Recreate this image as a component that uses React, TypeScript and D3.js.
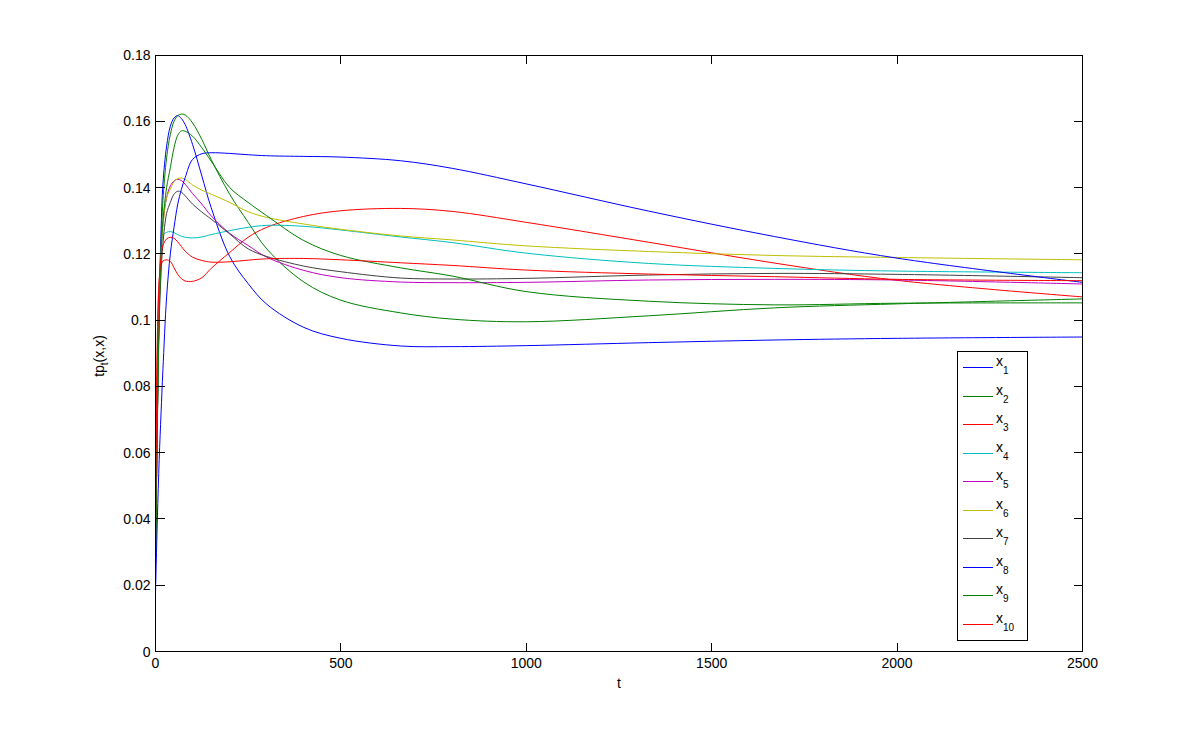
import React from 'react';
import * as d3 from 'd3';

// sample times (t) and the value of each series at those times
const times = [0, 5, 10, 15, 20, 30, 40, 50, 60, 70, 80, 100, 125, 150, 200, 250, 300, 400, 500, 660, 800, 1000, 1330, 1670, 2000, 2500];

const x1 = [0.027, 0.070, 0.105, 0.127, 0.141, 0.1525, 0.1585, 0.1610, 0.1617, 0.1608, 0.1590, 0.1530, 0.1435, 0.1340, 0.1192, 0.1110, 0.1048, 0.0978, 0.0945, 0.0922, 0.0920, 0.0923, 0.0932, 0.0940, 0.0945, 0.0949];
const x2 = [0.026, 0.070, 0.103, 0.123, 0.136, 0.149, 0.156, 0.1600, 0.1617, 0.1622, 0.1619, 0.1595, 0.1545, 0.1485, 0.1380, 0.1295, 0.1215, 0.1115, 0.1060, 0.1022, 0.1003, 0.0995, 0.1013, 0.1037, 0.1049, 0.1064];
const x3 = [0.046, 0.095, 0.112, 0.1165, 0.1178, 0.1182, 0.1177, 0.1158, 0.1138, 0.1125, 0.1118, 0.1117, 0.1128, 0.1156, 0.1204, 0.1250, 0.1280, 0.1313, 0.1330, 0.1337, 0.1328, 0.1295, 0.1235, 0.1172, 0.1120, 0.1070];
const x4 = [0.030, 0.080, 0.110, 0.121, 0.1255, 0.1265, 0.1267, 0.1264, 0.1258, 0.1253, 0.1250, 0.1248, 0.1251, 0.1258, 0.1270, 0.1280, 0.1286, 0.1283, 0.1272, 0.1251, 0.1234, 0.1202, 0.1171, 0.1156, 0.1148, 0.1143];
const x5 = [0.029, 0.075, 0.105, 0.120, 0.129, 0.137, 0.1405, 0.1420, 0.1425, 0.1421, 0.1410, 0.1382, 0.1350, 0.1315, 0.1262, 0.1225, 0.1190, 0.1150, 0.1128, 0.1115, 0.1113, 0.1114, 0.1121, 0.1123, 0.1121, 0.1109];
const x6 = [0.027, 0.072, 0.104, 0.119, 0.128, 0.137, 0.1395, 0.1418, 0.1427, 0.1429, 0.1425, 0.1408, 0.1392, 0.1380, 0.1355, 0.1327, 0.1310, 0.1290, 0.1274, 0.1254, 0.1242, 0.1224, 0.1207, 0.1195, 0.1189, 0.1182];
const x7 = [0.026, 0.070, 0.100, 0.114, 0.123, 0.1322, 0.1355, 0.1380, 0.1389, 0.1386, 0.1375, 0.1350, 0.1326, 0.1305, 0.1260, 0.1215, 0.1192, 0.1163, 0.1146, 0.1127, 0.1124, 0.1126, 0.1136, 0.1141, 0.1138, 0.1128];
const x8 = [0.0176, 0.040, 0.058, 0.072, 0.085, 0.107, 0.120, 0.128, 0.135, 0.1395, 0.1430, 0.1485, 0.1502, 0.1505, 0.1503, 0.1499, 0.1496, 0.1494, 0.1492, 0.1481, 0.1458, 0.1411, 0.1329, 0.1252, 0.1187, 0.1114];
const x9 = [0.028, 0.068, 0.100, 0.120, 0.130, 0.140, 0.146, 0.1520, 0.1558, 0.1571, 0.1570, 0.1555, 0.1520, 0.1480, 0.1400, 0.1355, 0.1315, 0.1240, 0.1195, 0.1158, 0.1133, 0.1086, 0.1057, 0.1046, 0.1051, 0.1052];
const x10 = [0.040, 0.090, 0.112, 0.119, 0.1225, 0.1245, 0.1250, 0.1247, 0.1236, 0.1222, 0.1208, 0.1190, 0.1180, 0.1175, 0.1176, 0.1181, 0.1185, 0.1186, 0.1182, 0.1173, 0.1165, 0.1151, 0.1139, 0.1131, 0.1123, 0.1119];

const seriesValues = [x1, x2, x3, x4, x5, x6, x7, x8, x9, x10];
const seriesNames = ['1', '2', '3', '4', '5', '6', '7', '8', '9', '10'];

const xTicks = [0, 500, 1000, 1500, 2000, 2500];
const yTicks = [0, 0.02, 0.04, 0.06, 0.08, 0.1, 0.12, 0.14, 0.16, 0.18];
const yTickLabels = ['0', '0.02', '0.04', '0.06', '0.08', '0.1', '0.12', '0.14', '0.16', '0.18'];

// matlab default line colours
const colors = ['#0000ff', '#008000', '#ff0000', '#00bfbf', '#bf00bf', '#bfbf00', '#404040'];

const W = 1196;
const H = 732;
const left = 155.5;
const right = 1082.5;
const top = 55;
const bottom = 651.5;
const font = '"Liberation Sans", Arial, sans-serif';

export default function App() {
  const x = d3.scaleLinear().domain([0, 2500]).range([left, right]);
  const y = d3.scaleLinear().domain([0, 0.18]).range([bottom, top]);

  const line = d3.line<number>()
    .x((_, i) => x(times[i]))
    .y(d => y(d))
    .curve(d3.curveCatmullRom.alpha(0.5));

  const tickLen = 9;

  // legend box
  const lgX = 957.5, lgY = 351.5, lgW = 70, lgH = 289;
  const rowY = (i: number) => Math.round(367 + i * 28.5) + 0.5;

  return (
    <svg width={W} height={H} style={{ position: 'absolute', left: 0, top: 0, background: '#fff' }}
      fontFamily={font}>
      <rect x={0} y={0} width={W} height={H} fill="#fff" />
      <rect x={left} y={top} width={right - left} height={bottom - top} fill="#fff" />

      {seriesValues.map((vals, i) => (
        <path key={i} d={line(vals) || ''} fill="none" stroke={colors[i % colors.length]}
          strokeWidth={1} />
      ))}

      {/* box and ticks */}
      <g stroke="#000" strokeWidth={1} shapeRendering="crispEdges">
        <rect x={left} y={top} width={right - left} height={bottom - top} fill="none" />
        {xTicks.map(t => (
          <g key={'xt' + t}>
            <line x1={x(t)} x2={x(t)} y1={bottom} y2={bottom - tickLen} />
            <line x1={x(t)} x2={x(t)} y1={top} y2={top + tickLen} />
          </g>
        ))}
        {yTicks.map(t => (
          <g key={'yt' + t}>
            <line x1={left} x2={left + tickLen} y1={y(t)} y2={y(t)} />
            <line x1={right} x2={right - tickLen} y1={y(t)} y2={y(t)} />
          </g>
        ))}
      </g>

      <g fontSize={14} fill="#000">
        {xTicks.map(t => (
          <text key={'xl' + t} x={x(t)} y={bottom + 16} textAnchor="middle">{t}</text>
        ))}
        {yTicks.map((t, i) => (
          <text key={'yl' + t} x={left - 5} y={y(t) + 5} textAnchor="end">{yTickLabels[i]}</text>
        ))}
        <text x={(left + right) / 2} y={688} textAnchor="middle">t</text>
        <text transform="translate(104,356) rotate(-90)" textAnchor="middle">
          tp<tspan dy={4} fontSize={10}>t</tspan><tspan dy={-4}>(x,x)</tspan>
        </text>
      </g>

      {/* legend */}
      <g>
        <rect x={lgX} y={lgY} width={lgW} height={lgH} fill="#fff" stroke="#000" strokeWidth={1}
          shapeRendering="crispEdges" />
        {seriesNames.map((name, i) => (
          <g key={'lg' + name}>
            <line x1={963} x2={993} y1={rowY(i)} y2={rowY(i)} stroke={colors[i % colors.length]}
              strokeWidth={1} />
            <text x={996} y={rowY(i) - 2} fontSize={14} fill="#000">
              x<tspan dy={8} fontSize={10}>{name}</tspan>
            </text>
          </g>
        ))}
      </g>
    </svg>
  );
}
